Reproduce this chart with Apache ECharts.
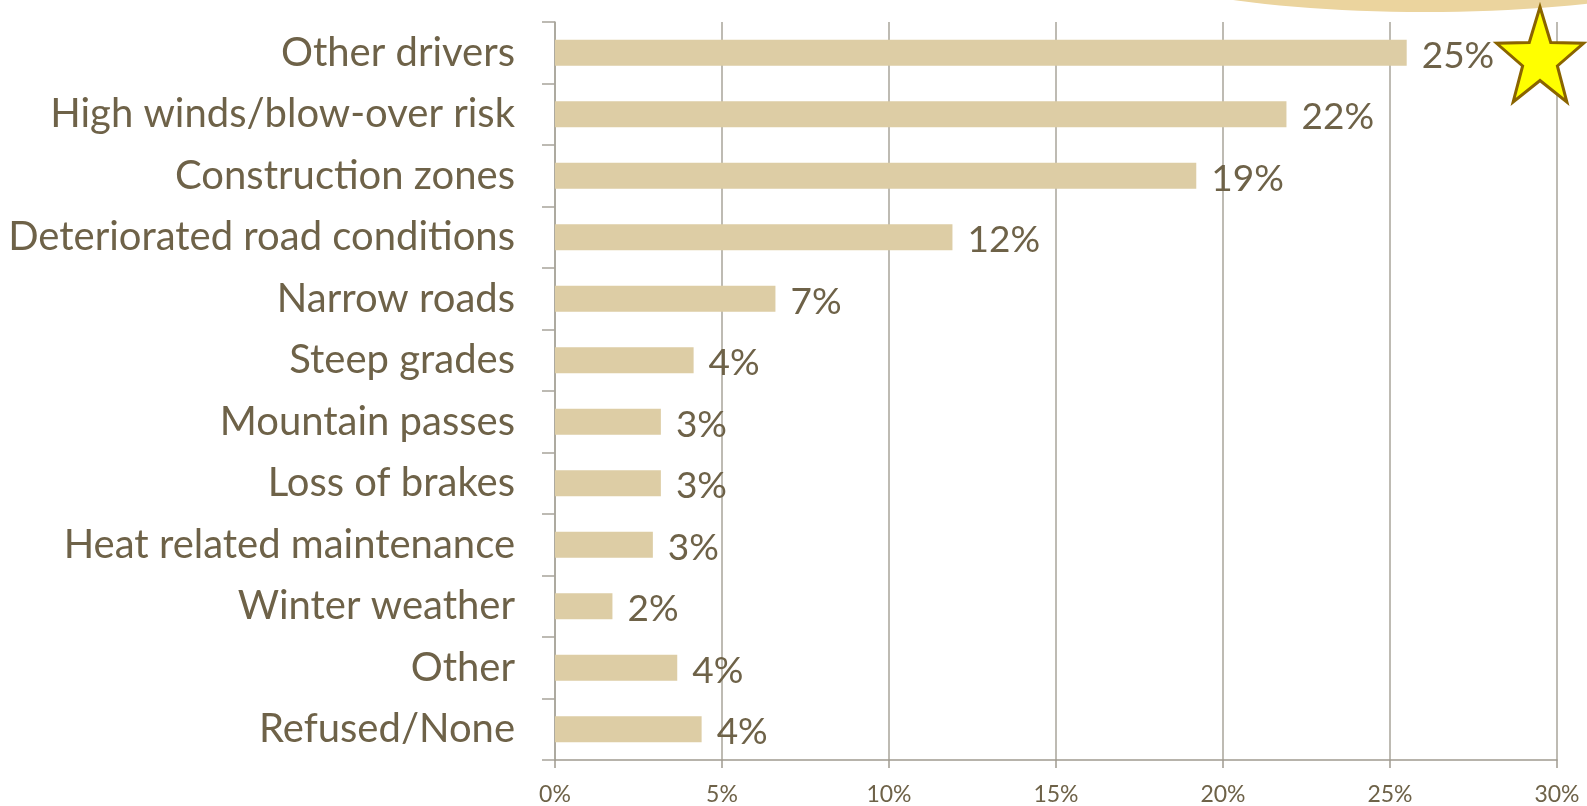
<!DOCTYPE html>
<html><head><meta charset="utf-8">
<script src="https://cdn.jsdelivr.net/npm/echarts@6/dist/echarts.min.js"></script>
<style>html,body{margin:0;padding:0;background:#fff}#c{width:1587px;height:806px}</style>
</head><body><div id="c"></div>
<script>
const categories = ["Other drivers","High winds/blow-over risk","Construction zones","Deteriorated road conditions","Narrow roads","Steep grades","Mountain passes","Loss of brakes","Heat related maintenance","Winter weather","Other","Refused/None"];
const values = [25.5, 21.9, 19.2, 11.9, 6.6, 4.15, 3.17, 3.17, 2.93, 1.72, 3.66, 4.39];
const labels = ["25%","22%","19%","12%","7%","4%","3%","3%","3%","2%","4%","4%"];
const xTicks = [0,5,10,15,20,25,30];

const txt = '#6E6248';
const chart = echarts.init(document.getElementById('c'), null, {renderer:'canvas'});

function starPts(cx, cy, R, r, sx){
  const p=[];
  for(let i=0;i<10;i++){
    const a = -Math.PI/2 + i*Math.PI/5;
    const rad = i%2===0?R:r;
    p.push([cx+sx*rad*Math.cos(a), cy+rad*Math.sin(a)]);
  }
  return p;
}
function ellPts(cx, cy, rx, ry){
  const p=[];
  for(let i=0;i<120;i++){const a=i/120*Math.PI*2;p.push([cx+rx*Math.cos(a),cy+ry*Math.sin(a)]);}
  return p;
}

chart.setOption({
  animation:false,
  textStyle:{fontFamily:'Lato'},
  grid:{left:555,right:30,top:22,bottom:46,containLabel:false},
  xAxis:{type:'value',min:0,max:30,interval:5,
    axisLine:{show:true,lineStyle:{color:'#A09B90',width:1.5}},
    axisTick:{show:true,length:8,lineStyle:{color:'#A09B90',width:1.5}},
    splitLine:{show:true,lineStyle:{color:'#A8A49A',width:1.5}},
    axisLabel:{color:txt,fontSize:23,margin:23,fontFamily:'Lato',
      formatter:v=> xTicks.includes(v)? v+'%':''}},
  yAxis:{type:'category',data:categories,inverse:true,
    axisLine:{show:true,lineStyle:{color:'#A8A49A',width:1.5}},
    axisTick:{show:true,length:13,lineStyle:{color:'#A8A49A',width:1.5}},
    axisLabel:{color:txt,fontSize:40,margin:40,fontFamily:'Lato'}},
  series:[{type:'bar',data:values,barWidth:26,
    itemStyle:{color:'#DDCDA5'},
    label:{show:true,position:'right',distance:15,color:txt,fontSize:37,fontFamily:'Lato',
      offset:[0,3],formatter:p=>labels[p.dataIndex]}}],
  graphic:[
    {type:'polygon',shape:{points:ellPts(1425,-48,320,60)},style:{fill:'#EBD49E'},z:100},
    {type:'polygon',shape:{points:starPts(1540,59.5,52.5,21,0.87)},style:{fill:'#FFFF00',stroke:'#8A6400',lineWidth:3},z:100}
  ]
});
</script></body></html>
